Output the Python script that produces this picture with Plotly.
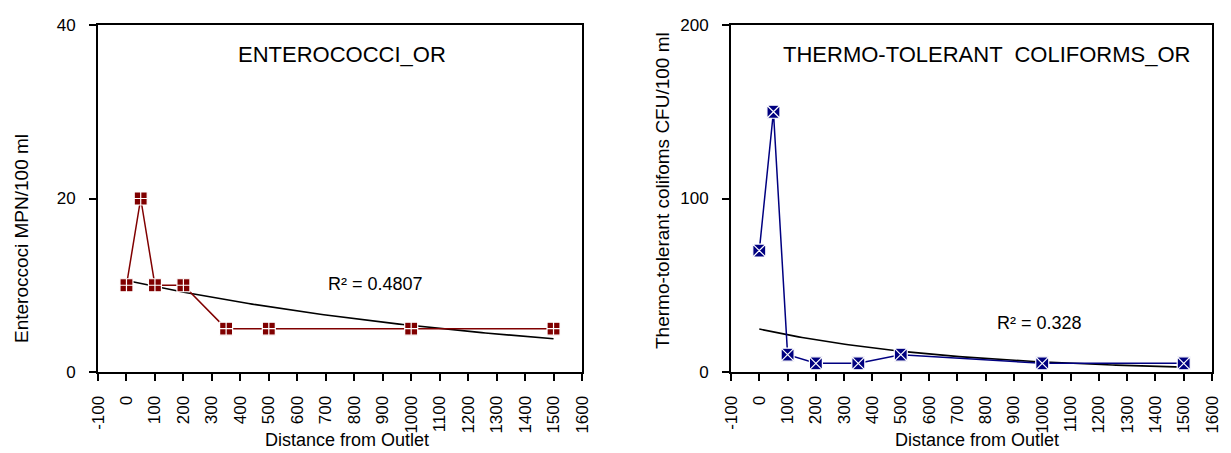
import numpy as np
import plotly.graph_objects as go

# ---- data ----
distance = [0, 50, 100, 200, 350, 500, 1000, 1500]
enterococci = [10, 20, 10, 10, 5, 5, 5, 5]
coliforms = [70, 150, 10, 5, 5, 10, 5, 5]

x_ticks = list(range(-100, 1700, 100))
left_y_ticks = [0, 20, 40]
right_y_ticks = [0, 100, 200]

titles = ["ENTEROCOCCI_OR", "THERMO-TOLERANT  COLIFORMS_OR"]
y_titles = ["Enteroccoci MPN/100 ml", "Thermo-tolerant colifoms CFU/100 ml"]
x_title = "Distance from Outlet"


def exp_fit(x, y):
    x = np.asarray(x, float)
    ly = np.log(np.asarray(y, float))
    b, lna = np.polyfit(x, ly, 1)
    pred = lna + b * x
    r2 = 1 - np.sum((ly - pred) ** 2) / np.sum((ly - ly.mean()) ** 2)
    return np.exp(lna), b, r2


FONT = "Liberation Sans, Arial, sans-serif"
W, H = 1223, 445  # page body has an 8px margin


def px(x):
    return x / W


def py(y):
    return 1 - y / H


fig = go.Figure()

panels = [
    dict(y=enterococci, color="#800000", symbol="square-cross", xa="x", ya="y",
         yr=[0, 40], yt=left_y_ticks, r2pos=(873, 10.2)),
    dict(y=coliforms, color="#000080", symbol="square-x", xa="x2", ya="y2",
         yr=[0, 200], yt=right_y_ticks, r2pos=(992, 28.5)),
]

for p in panels:
    a, b, r2 = exp_fit(distance, p["y"])
    xs = np.linspace(min(distance), max(distance), 120)
    fig.add_trace(go.Scatter(x=xs, y=a * np.exp(b * xs), mode="lines",
                             line=dict(color="black", width=1.6),
                             xaxis=p["xa"], yaxis=p["ya"], showlegend=False,
                             hoverinfo="skip"))
    fig.add_trace(go.Scatter(x=distance, y=p["y"], mode="lines+markers",
                             line=dict(color=p["color"], width=1.5),
                             marker=dict(symbol=p["symbol"], size=13, color=p["color"],
                                         line=dict(color="white", width=1.2)),
                             xaxis=p["xa"], yaxis=p["ya"], showlegend=False))
    fig.add_annotation(x=p["r2pos"][0], y=p["r2pos"][1], xref=p["xa"], yref=p["ya"],
                       text=f"R² = {r2:.4g}", showarrow=False,
                       xanchor="center", yanchor="middle",
                       font=dict(family=FONT, size=18, color="black"))

doms_x = [[px(90), px(574)], [px(723), px(1204)]]
dom_y = [py(364), py(17)]

axis_common = dict(showline=True, linecolor="black", linewidth=2, mirror=True,
                   ticks="outside", ticklen=7, tickwidth=1.5, tickcolor="black",
                   showgrid=False, zeroline=False, automargin=False,
                   tickfont=dict(family=FONT, size=17, color="black"))

for i, p in enumerate(panels):
    sfx = "" if i == 0 else "2"
    fig.update_layout(**{
        f"xaxis{sfx}": dict(axis_common, domain=doms_x[i], range=[-100, 1600],
                            tickvals=x_ticks, ticktext=[str(v) for v in x_ticks],
                            tickangle=-90, anchor=f"y{sfx}", ticklabelstandoff=8),
        f"yaxis{sfx}": dict(axis_common, domain=dom_y, range=p["yr"],
                            tickvals=p["yt"], anchor=f"x{sfx}", ticklabelstandoff=10),
    })

# titles and axis titles (pixel positions within the figure)
title_pos = [(334, 47), (978, 47)]
xt_pos = [(339, 432), (969, 432)]
yt_pos = [(13, 231), (655, 183)]
for i in range(2):
    fig.add_annotation(x=px(title_pos[i][0]), y=py(title_pos[i][1]),
                       xref="paper", yref="paper", text=titles[i], showarrow=False,
                       xanchor="center", yanchor="middle",
                       font=dict(family=FONT, size=22, color="black"))
    fig.add_annotation(x=px(xt_pos[i][0]), y=py(xt_pos[i][1]),
                       xref="paper", yref="paper", text=x_title, showarrow=False,
                       xanchor="center", yanchor="middle",
                       font=dict(family=FONT, size=18, color="black"))
    fig.add_annotation(x=px(yt_pos[i][0]), y=py(yt_pos[i][1]),
                       xref="paper", yref="paper", text=y_titles[i], showarrow=False,
                       textangle=-90, xanchor="center", yanchor="middle",
                       font=dict(family=FONT, size=19, color="black"))

fig.update_layout(template="none", width=W, height=H,
                  margin=dict(l=0, r=0, t=0, b=0, autoexpand=False),
                  paper_bgcolor="white", plot_bgcolor="white")

fig.write_html("out.html")
